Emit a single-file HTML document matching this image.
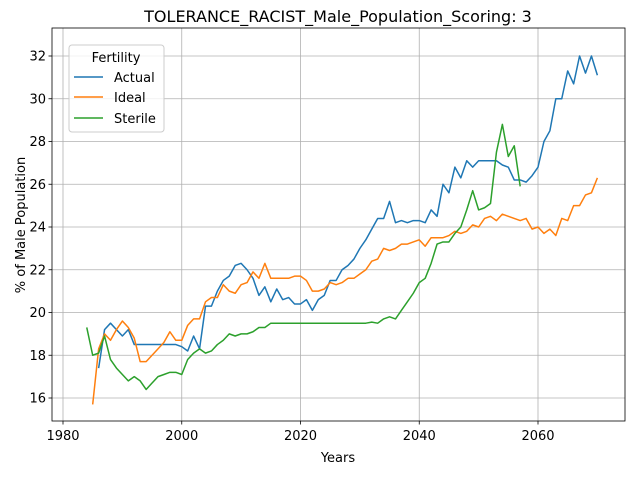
<!DOCTYPE html>
<html><head><meta charset="utf-8"><style>
body{margin:0;background:#fff;}
svg{display:block;font-family:"DejaVu Sans","Liberation Sans",sans-serif;}
</style></head><body>
<svg id="chart" width="640" height="480">
<rect width="640" height="480" fill="#fff"/>
<text x="338" y="22" font-size="16" text-anchor="middle">TOLERANCE_RACIST_Male_Population_Scoring: 3</text>
<g id="grid"></g>
<g id="series"></g>
<rect x="52" y="28" width="573" height="393" fill="none" stroke="#000" stroke-width="0.8"/>
<g id="ticks"></g>
<text x="338" y="462" font-size="13" text-anchor="middle">Years</text>
<text x="25" y="225" font-size="13" text-anchor="middle" transform="rotate(-90 25 225)">% of Male Population</text>
<g>
<rect x="69" y="45" width="95" height="87" rx="3" fill="#fff" fill-opacity="0.8" stroke="#ccc"/>
<text x="116" y="62" font-size="13" text-anchor="middle">Fertility</text>
<line x1="74" y1="77" x2="103" y2="77" stroke="#1f77b4" stroke-width="1.5"/>
<text x="114" y="82" font-size="13">Actual</text>
<line x1="74" y1="97" x2="103" y2="97" stroke="#ff7f0e" stroke-width="1.5"/>
<text x="114" y="102" font-size="13">Ideal</text>
<line x1="74" y1="118" x2="103" y2="118" stroke="#2ca02c" stroke-width="1.5"/>
<text x="114" y="123" font-size="13">Sterile</text>
</g>
</svg>
<script>
const xTicks=[1980,2000,2020,2040,2060];
const yTicks=[16,18,20,22,24,26,28,30,32];
const actualStart=1986;
const actual=[17.4,19.2,19.5,19.2,18.9,19.2,18.5,18.5,18.5,18.5,18.5,18.5,18.5,18.5,18.4,18.2,18.9,18.3,20.3,20.3,21.0,21.5,21.7,22.2,22.3,22.0,21.6,20.8,21.2,20.5,21.1,20.6,20.7,20.4,20.4,20.6,20.1,20.6,20.8,21.5,21.5,22.0,22.2,22.5,23.0,23.4,23.9,24.4,24.4,25.2,24.2,24.3,24.2,24.3,24.3,24.2,24.8,24.5,26.0,25.6,26.8,26.3,27.1,26.8,27.1,27.1,27.1,27.1,26.9,26.8,26.2,26.2,26.1,26.4,26.8,28.0,28.5,30.0,30.0,31.3,30.7,32.0,31.2,32.0,31.1];
const idealStart=1985;
const ideal=[15.7,18.3,19.0,18.7,19.2,19.6,19.3,18.8,17.7,17.7,18.0,18.3,18.6,19.1,18.7,18.7,19.4,19.7,19.7,20.5,20.7,20.7,21.3,21.0,20.9,21.3,21.4,21.9,21.6,22.3,21.6,21.6,21.6,21.6,21.7,21.7,21.5,21.0,21.0,21.1,21.4,21.3,21.4,21.6,21.6,21.8,22.0,22.4,22.5,23.0,22.9,23.0,23.2,23.2,23.3,23.4,23.1,23.5,23.5,23.5,23.6,23.8,23.7,23.8,24.1,24.0,24.4,24.5,24.3,24.6,24.5,24.4,24.3,24.4,23.9,24.0,23.7,23.9,23.6,24.4,24.3,25.0,25.0,25.5,25.6,26.3];
const sterileStart=1984;
const sterile=[19.3,18.0,18.1,18.9,17.8,17.4,17.1,16.8,17.0,16.8,16.4,16.7,17.0,17.1,17.2,17.2,17.1,17.8,18.1,18.3,18.1,18.2,18.5,18.7,19.0,18.9,19.0,19.0,19.1,19.3,19.3,19.5,19.5,19.5,19.5,19.5,19.5,19.5,19.5,19.5,19.5,19.5,19.5,19.5,19.5,19.5,19.5,19.5,19.55,19.5,19.7,19.8,19.7,20.1,20.5,20.9,21.4,21.6,22.3,23.2,23.3,23.3,23.7,24.0,24.8,25.7,24.8,24.9,25.1,27.5,28.8,27.3,27.8,25.9];
const NS='http://www.w3.org/2000/svg';
function xs(v){return 63+(v-1980)*5.9375;}
function ys(v){return 398-(v-16)*21.375;}
const grid=document.getElementById('grid'),ticks=document.getElementById('ticks'),ser=document.getElementById('series');
function mk(tag,attrs,parent){const e=document.createElementNS(NS,tag);for(const k in attrs)e.setAttribute(k,attrs[k]);parent.appendChild(e);return e;}
xTicks.forEach(t=>{const x=xs(t);
 const g=mk('line',{x1:x,x2:x,y1:28,y2:421,stroke:'#b0b0b0','stroke-width':0.8},grid);
 
 
 const tk=mk('line',{x1:x,x2:x,y1:421,y2:424.5,stroke:'#000','stroke-width':0.8},ticks);
 
 
 const tl=mk('text',{x:x,y:440,'font-size':13,'text-anchor':'middle'},ticks);tl.textContent=t;
 
 
});
yTicks.forEach(t=>{const y=ys(t);
 const g=mk('line',{x1:52,x2:625,y1:y,y2:y,stroke:'#b0b0b0','stroke-width':0.8},grid);
 
 
 const tk=mk('line',{x1:48.5,x2:52,y1:y,y2:y,stroke:'#000','stroke-width':0.8},ticks);
 
 
 const tl=mk('text',{x:46,y:y+4.5,'font-size':13,'text-anchor':'end'},ticks);tl.textContent=t;
 
 
});
function line(data,start,color,name){
 const pts=data.map((v,i)=>xs(start+i).toFixed(2)+','+ys(v).toFixed(2)).join(' ');
 const p=mk('polyline',{points:pts,fill:'none',stroke:color,'stroke-width':1.5,'stroke-linejoin':'round'},ser);
 
 
}
line(actual,actualStart,'#1f77b4','actual-line');
line(ideal,idealStart,'#ff7f0e','ideal-line');
line(sterile,sterileStart,'#2ca02c','sterile-line');
</script>
</body></html>
